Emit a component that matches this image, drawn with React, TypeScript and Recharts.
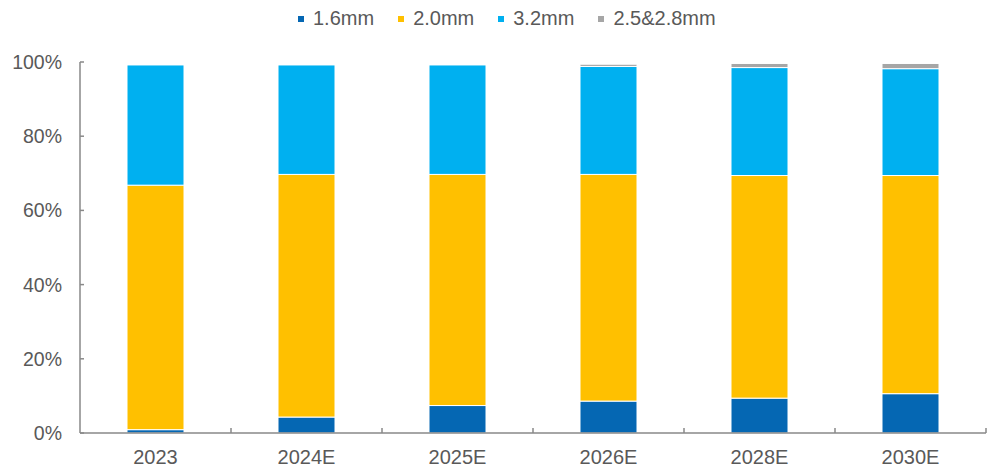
import React from "react";
import { BarChart, Bar, XAxis, YAxis, Legend } from "recharts";

const categories = ["2023", "2024E", "2025E", "2026E", "2028E", "2030E"];
const s16 = [0.9, 4.3, 7.4, 8.6, 9.4, 10.6];
const s20 = [65.9, 65.4, 62.3, 61.1, 60.0, 58.8];
const s32 = [32.4, 29.5, 29.5, 29.1, 29.1, 28.8];
const s2528 = [0, 0, 0, 0.6, 1.1, 1.4];
const yTicks = [0, 20, 40, 60, 80, 100];

const seriesNames = ["1.6mm", "2.0mm", "3.2mm", "2.5&2.8mm"];
const colors = ["#0567B3", "#FFC000", "#00B0F0", "#A6A6A6"];
const keys = ["s16", "s20", "s32", "s2528"];

const data = categories.map((c, i) => ({
  name: c,
  s16: s16[i],
  s20: s20[i],
  s32: s32[i],
  s2528: s2528[i],
}));

const AXIS = "#898989";
const TEXT = "#595959";
const FONT = "'Liberation Sans', Arial, sans-serif";
const X_MARGIN = 17;

const XTick = (props: any) => {
  const { x, y, payload, width, visibleTicksCount } = props;
  const half =
    payload && typeof payload.offset === "number" && payload.offset > 0
      ? payload.offset
      : width / visibleTicksCount / 2;
  const axisY = y - X_MARGIN;
  return (
    <g>
      <line x1={x + half} x2={x + half} y1={axisY} y2={axisY - 5} stroke={AXIS} strokeWidth={1.5} />
      <text x={x} y={y} dy="0.71em" textAnchor="middle" fill={TEXT} fontSize={20} fontFamily={FONT}>
        {payload.value}
      </text>
    </g>
  );
};

const LegendContent = () => (
  <div style={{ display: "flex", alignItems: "center", marginLeft: 298, fontFamily: FONT, fontSize: 20, color: TEXT }}>
    {seriesNames.map((n, i) => (
      <div key={n} style={{ display: "flex", alignItems: "center", marginRight: 24 }}>
        <span style={{ display: "inline-block", width: 6, height: 6, background: colors[i], marginRight: 9 }} />
        <span>{n}</span>
      </div>
    ))}
  </div>
);

export default function App() {
  return (
    <div style={{ position: "absolute", left: 0, top: 0, width: 995, height: 468, background: "#fff" }}>
      <BarChart
        width={995}
        height={468}
        data={data}
        margin={{ top: 62, right: 9, bottom: 0, left: 0 }}
        barSize={57}
      >
        <Legend
          verticalAlign="middle"
          align="center"
          wrapperStyle={{ top: 7, left: 0, width: 995 }}
          content={<LegendContent />}
        />
        <XAxis
          dataKey="name"
          height={35}
          tickSize={0}
          tickMargin={X_MARGIN}
          tickLine={false}
          axisLine={{ stroke: AXIS, strokeWidth: 1.5 }}
          tick={<XTick />}
          interval={0}
        />
        <YAxis
          width={80}
          domain={[0, 100]}
          ticks={yTicks}
          tickSize={-4}
          tickMargin={22}
          tickLine={{ stroke: AXIS, strokeWidth: 1.5 }}
          axisLine={{ stroke: AXIS, strokeWidth: 1.5 }}
          tickFormatter={(v: number) => `${v}%`}
          tick={{ fill: TEXT, fontSize: 19.5, fontFamily: FONT }}
          allowDataOverflow
        />
        {keys.map((k, i) => (
          <Bar
            key={k}
            dataKey={k}
            name={seriesNames[i]}
            stackId="a"
            fill={colors[i]}
            stroke="#fff"
            strokeWidth={1}
            isAnimationActive={false}
          />
        ))}
      </BarChart>
    </div>
  );
}
